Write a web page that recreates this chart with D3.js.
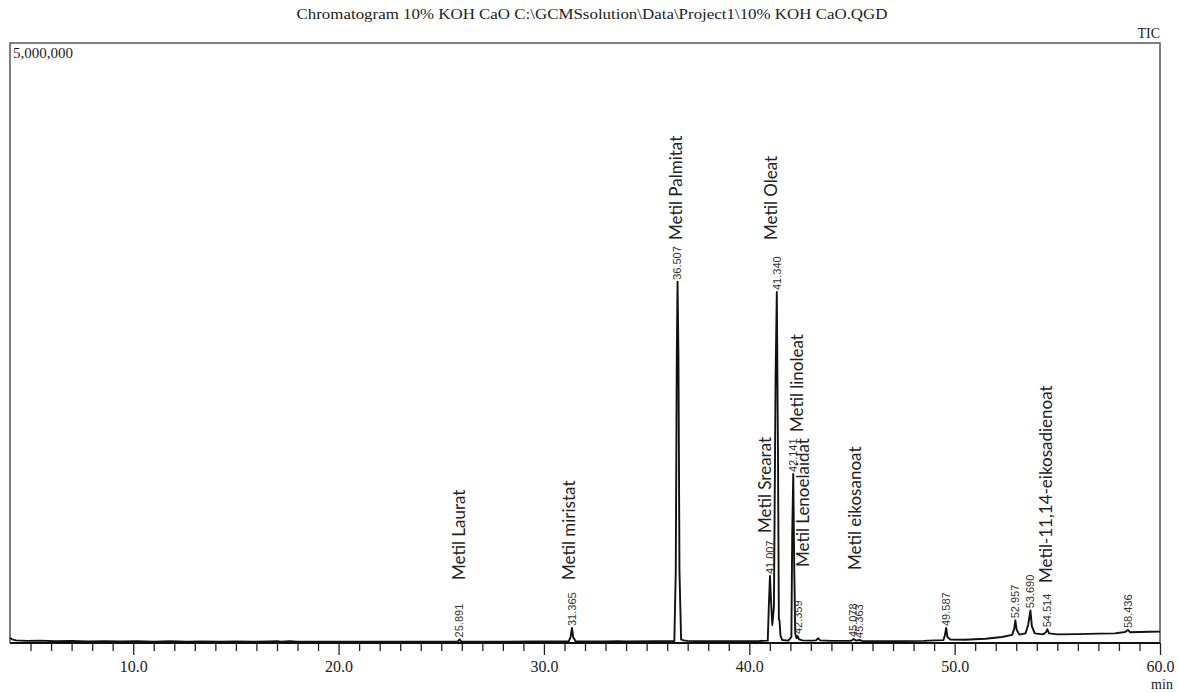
<!DOCTYPE html>
<html>
<head>
<meta charset="utf-8">
<script src="https://cdn.jsdelivr.net/npm/d3@7"></script>
<style>
  html, body { margin: 0; padding: 0; background: #fff; }
  svg { display: block; }
</style>
</head>
<body>
<svg id="chart" width="1179" height="693"></svg>
<script>
// retention time (min) and apex intensity of each labelled peak
const retentionTimes = [25.891, 31.365, 36.507, 41.007, 41.340, 42.141, 42.359, 45.078, 45.363, 49.587, 52.957, 53.690, 54.514, 58.436];
const peakHeights = [30000, 125000, 3010000, 558000, 2925000, 1408000, 58000, 33000, 25000, 125000, 189000, 272000, 114000, 108000];

// compound annotations, tied to a peak by retention time
const compoundNames = ["Metil Laurat", "Metil miristat", "Metil Palmitat", "Metil Srearat", "Metil Oleat", "Metil linoleat", "Metil Lenoelaidat", "Metil eikosanoat", "Metil-11,14-eikosadienoat"];
const compoundTimes = [25.891, 31.365, 36.507, 41.007, 41.340, 42.141, 42.359, 45.078, 54.514];

const xTicks = [10, 20, 30, 40, 50, 60];

// TIC trace: [time, intensity]
const tic = [
  [4.00, 45000], [4.10, 30000], [4.30, 22000], [4.8, 18000], [5.5, 20000], [6.2, 15000], [7.0, 17000],
  [7.8, 13000], [8.6, 16000], [9.4, 12000], [10.2, 14000], [11.0, 11000], [11.8, 14000], [12.6, 11000],
  [13.4, 13000], [14.2, 10000], [15.0, 12000], [15.8, 10000], [16.6, 13000], [17.0, 16000], [17.2, 10000],
  [17.6, 14000], [18.0, 10000], [19.0, 11000], [20.0, 10000], [21.5, 11000], [23.0, 10000], [24.5, 11000],
  [25.5, 11000], [25.80, 12000], [25.891, 30000], [25.98, 12000], [26.5, 11000], [28.0, 11000], [29.5, 12000],
  [31.20, 12000], [31.30, 50000], [31.365, 125000], [31.43, 45000], [31.55, 14000], [33.0, 13000], [33.6, 16000],
  [34.0, 13000], [35.5, 14000], [36.35, 16000], [36.42, 600000], [36.47, 2400000], [36.507, 3010000],
  [36.55, 2400000], [36.60, 600000], [36.68, 30000], [36.80, 22000], [37.0, 18000], [37.3, 16000], [38.5, 15000],
  [39.5, 16000], [40.5, 17000], [40.90, 20000], [40.95, 300000], [41.007, 558000], [41.06, 350000],
  [41.12, 150000], [41.20, 300000], [41.28, 2200000], [41.340, 2925000], [41.40, 1500000], [41.44, 200000],
  [41.47, 190000], [41.52, 60000], [41.60, 25000], [41.90, 20000], [42.05, 50000], [42.09, 900000],
  [42.141, 1408000], [42.19, 600000], [42.24, 80000], [42.30, 40000], [42.359, 58000], [42.42, 30000],
  [42.6, 22000], [43.0, 20000], [43.25, 22000], [43.35, 40000], [43.45, 22000], [44.0, 18000], [44.9, 18000],
  [45.0, 22000], [45.078, 33000], [45.2, 20000], [45.363, 25000], [45.5, 17000], [46.5, 15000], [47.5, 16000],
  [48.5, 18000], [49.0, 22000], [49.45, 24000], [49.52, 60000], [49.587, 125000], [49.65, 50000], [49.8, 28000],
  [50.5, 27000], [51.5, 35000], [52.3, 50000], [52.8, 68000], [52.90, 120000], [52.957, 189000], [53.02, 110000],
  [53.15, 70000], [53.45, 80000], [53.58, 150000], [53.690, 272000], [53.76, 140000], [53.9, 80000],
  [54.3, 72000], [54.45, 90000], [54.514, 114000], [54.6, 80000], [55.0, 72000], [56.0, 74000], [57.0, 78000],
  [57.8, 80000], [58.3, 92000], [58.436, 108000], [58.55, 90000], [59.0, 92000], [59.5, 94000], [60.0, 95000]
];

const svg = d3.select("#chart");
const plotLeft = 10, plotRight = 1160, plotTop = 43, plotBottom = 643;

const x = d3.scaleLinear().domain([4, 60]).range([plotLeft, plotRight]);
const y = d3.scaleLinear().domain([0, 5000000]).range([plotBottom, plotTop]);

const serif = "'Liberation Serif', 'Times New Roman', serif";

// title + corner texts
svg.append("text")
  .attr("x", 592).attr("y", 19)
  .attr("text-anchor", "middle")
  .attr("textLength", 591).attr("lengthAdjust", "spacingAndGlyphs")
  .style("font-family", serif).style("font-size", "14px").style("fill", "#222")
  .text("Chromatogram 10% KOH CaO C:\\GCMSsolution\\Data\\Project1\\10% KOH CaO.QGD");

svg.append("text")
  .attr("x", 1160).attr("y", 38)
  .attr("text-anchor", "end")
  .style("font-family", serif).style("font-size", "14px").style("fill", "#222")
  .text("TIC");

// frame
svg.append("path")
  .attr("d", `M${plotLeft},${plotBottom} V${plotTop} H${plotRight} V${plotBottom}`)
  .attr("fill", "none").attr("stroke", "#555").attr("stroke-width", 1.5);

svg.append("text")
  .attr("x", 13).attr("y", 58)
  .style("font-family", serif).style("font-size", "15px").style("fill", "#222")
  .text(d3.format(",")(y.domain()[1]));

// x axis: minor ticks each minute, longer at the labelled ones
const minor = d3.range(5, 60, 1).filter(d => d % 10 !== 0);
svg.append("g")
  .attr("transform", `translate(0,${plotBottom})`)
  .call(d3.axisBottom(x).tickValues(minor).tickSize(8).tickFormat(""))
  .call(g => g.select(".domain").remove())
  .call(g => g.selectAll(".tick line").attr("stroke", "#222").attr("stroke-width", 1.3));

svg.append("g")
  .attr("transform", `translate(0,${plotBottom})`)
  .call(d3.axisBottom(x).tickValues(xTicks).tickSize(12).tickPadding(6).tickFormat(d3.format(".1f")))
  .call(g => g.select(".domain").remove())
  .call(g => g.selectAll(".tick line").attr("stroke", "#222").attr("stroke-width", 1.3))
  .call(g => g.selectAll(".tick text")
    .style("font-family", serif).style("font-size", "16px").style("fill", "#222"));

svg.append("line")
  .attr("x1", plotLeft).attr("x2", plotRight).attr("y1", plotBottom).attr("y2", plotBottom)
  .attr("stroke", "#111").attr("stroke-width", 2.2);

svg.append("text")
  .attr("x", 1162).attr("y", 689)
  .attr("text-anchor", "middle")
  .style("font-family", serif).style("font-size", "14px").style("fill", "#222")
  .text("min");

// trace
const line = d3.line().x(d => x(d[0])).y(d => y(d[1]));
svg.append("path")
  .datum(tic)
  .attr("d", line)
  .attr("fill", "none")
  .attr("stroke", "#111")
  .attr("stroke-width", 1.9)
  .attr("stroke-linejoin", "round");

// retention time labels above each apex
svg.append("g").selectAll("text")
  .data(retentionTimes)
  .join("text")
  .attr("transform", (d, i) => `translate(${x(d)},${y(peakHeights[i]) - 2}) rotate(-90)`)
  .attr("dy", "0.35em")
  .style("font-family", "'Liberation Sans', Arial, sans-serif")
  .style("font-size", "11px")
  .style("fill", "#333")
  .text(d => d3.format(".3f")(d));

// compound names: [dx, bottom of the text in px]
const nameLayout = [[-1, 580], [-2.5, 580], [-2, 240], [-5, 533], [-6, 240], [4, 432], [5, 567], [1, 570], [-1, 583]];
svg.append("g").selectAll("text")
  .data(compoundNames)
  .join("text")
  .attr("transform", (d, i) => `translate(${x(compoundTimes[i]) + nameLayout[i][0]},${nameLayout[i][1]}) rotate(-90)`)
  .attr("dy", "0.35em")
  .style("font-family", "Lato, 'Noto Sans', sans-serif")
  .style("font-size", "17px")
  .style("fill", "#222")
  .text(d => d);
</script>
</body>
</html>
